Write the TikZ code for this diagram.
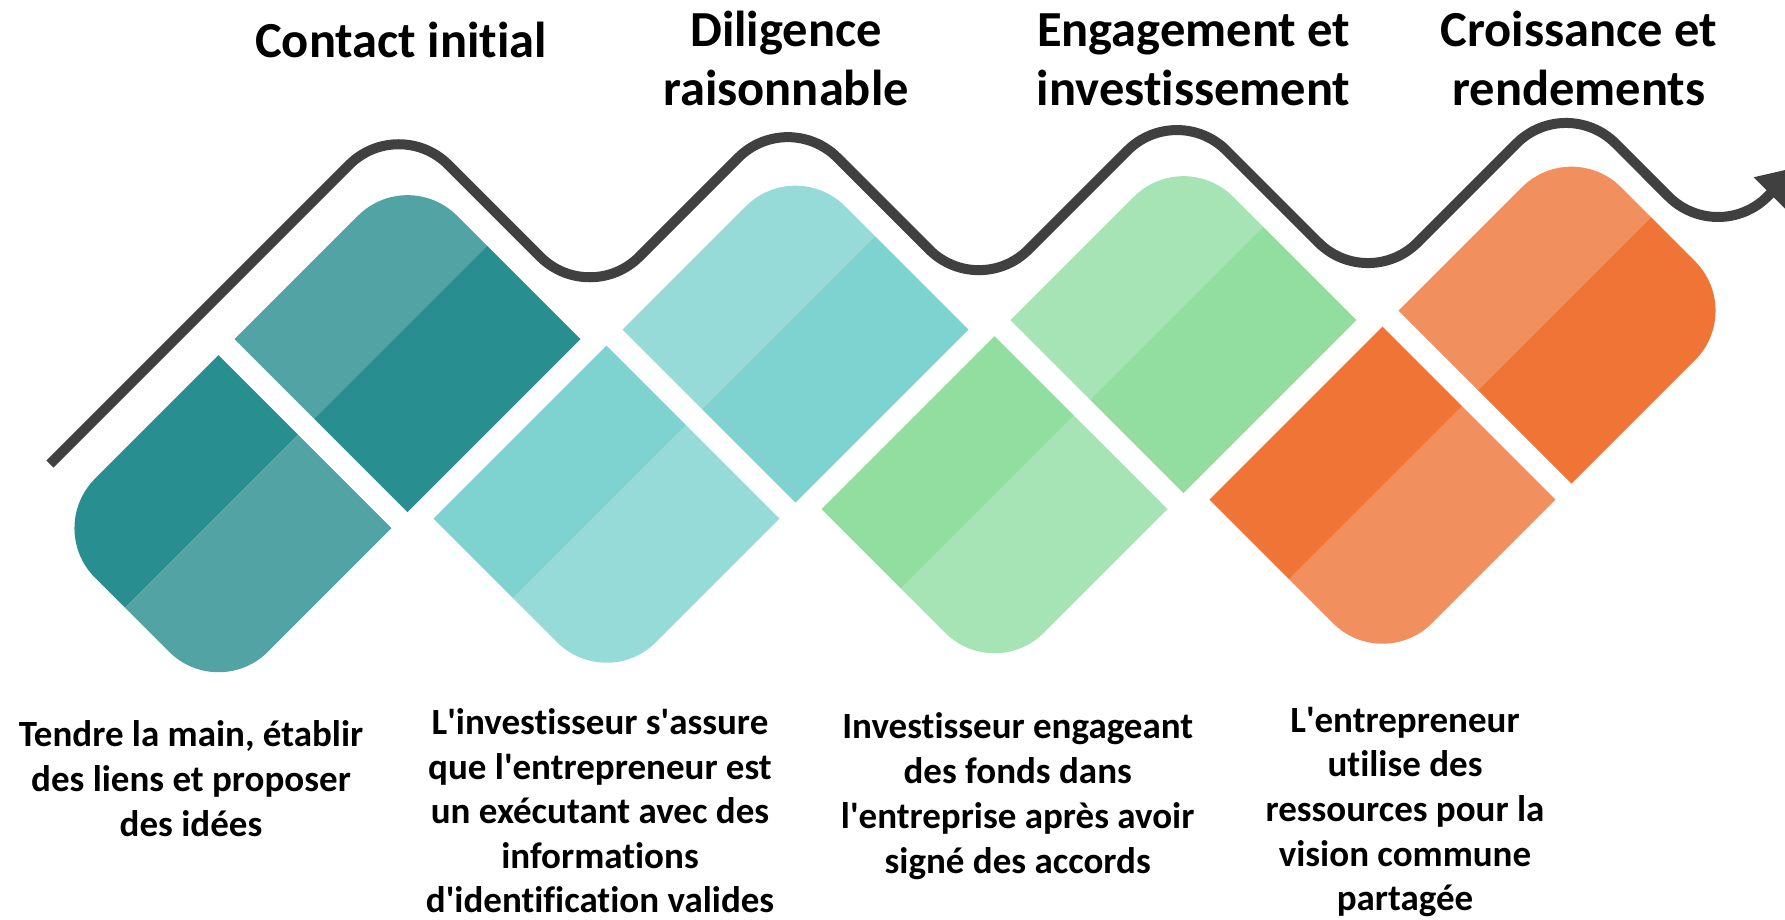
\documentclass[tikz,border=0pt]{standalone}
\usepackage{fontspec}
\setmainfont{Carlito}[Ligatures=CommonOff]
\usetikzlibrary{calc,arrows.meta}
\newcommand{\ap}{\textquotesingle}
\definecolor{lineC}{HTML}{404040}
\definecolor{aD}{HTML}{288E8F}
\definecolor{aL}{HTML}{52A3A4}
\definecolor{bD}{HTML}{7ED3D0}
\definecolor{bL}{HTML}{97DBD8}
\definecolor{cD}{HTML}{92DEA0}
\definecolor{cL}{HTML}{A6E4B5}
\definecolor{dD}{HTML}{F07436}
\definecolor{dL}{HTML}{F18F5E}
% rounded corner helper: #1 name, #2 corner, #3 previous point, #4 next point
\newcommand{\rcdef}[4]{%
  \coordinate (#1a) at ($(#2)!70pt!(#3)$);
  \coordinate (#1c) at ($(#2)!31.3pt!(#3)$);
  \coordinate (#1d) at ($(#2)!31.3pt!(#4)$);
  \coordinate (#1b) at ($(#2)!70pt!(#4)$);}
% stage geometry: #1 name, #2 cx, #3 cy (centre of the upper piece)
\newcommand{\defstage}[3]{%
  \coordinate (#1-UL) at (#2-173,#3);
  \coordinate (#1-UT) at (#2,#3-173);
  \coordinate (#1-UR) at (#2+173,#3);
  \coordinate (#1-UB) at (#2,#3+173);
  \coordinate (#1-US1) at ($(#1-UT)!0.46!(#1-UR)$);
  \coordinate (#1-US2) at ($(#1-UL)!0.46!(#1-UB)$);
  \coordinate (#1-DL) at (#2-362,#3+189);
  \coordinate (#1-DT) at (#2-189,#3+16);
  \coordinate (#1-DR) at (#2-16,#3+189);
  \coordinate (#1-DB) at (#2-189,#3+362);
  \coordinate (#1-DS1) at ($(#1-DT)!0.46!(#1-DR)$);
  \coordinate (#1-DS2) at ($(#1-DL)!0.46!(#1-DB)$);
  \rcdef{#1-rT}{#1-UT}{#1-UL}{#1-UR}
  \rcdef{#1-rB}{#1-DB}{#1-DR}{#1-DL}}
\begin{document}
\begin{tikzpicture}[x=1pt,y=-1pt,
  wave/.style={draw=lineC,line width=10pt,rounded corners=70pt,
    -{Triangle[length=38pt,width=44pt]}},
  ttl/.style={font=\bfseries\fontsize{50.5}{59.5}\selectfont,align=center,
    inner sep=0pt,anchor=north},
  txt/.style={font=\bfseries\fontsize{37}{45}\selectfont,align=center,
    inner sep=0pt,anchor=north}]
\useasboundingbox (0,0) rectangle (1785,920);
\clip (0,0) rectangle (1785,920);
\defstage{a}{407.5}{339.2}
\defstage{b}{795.5}{329.7}
\defstage{c}{1183.5}{320.2}
\defstage{d}{1571.5}{310.7}
\rcdef{a-rL}{a-DL}{a-DB}{a-DT}
\rcdef{d-rR}{d-UR}{d-UT}{d-UB}
% upper pieces, upper-left halves (light)
\foreach \s/\c in {a/aL,b/bL,c/cL,d/dL}{
  \fill[\c] (\s-UL) -- (\s-rTa) .. controls (\s-rTc) and (\s-rTd) .. (\s-rTb)
    -- (\s-US1) -- (\s-US2) -- cycle;}
% upper pieces, lower-right halves (dark)
\foreach \s/\c in {a/aD,b/bD,c/cD}{
  \fill[\c] (\s-US1) -- (\s-UR) -- (\s-UB) -- (\s-US2) -- cycle;}
\fill[dD] (d-US1) -- (d-rRa) .. controls (d-rRc) and (d-rRd) .. (d-rRb)
  -- (d-UB) -- (d-US2) -- cycle;
% lower pieces, upper-left halves (dark)
\fill[aD] (a-rLa) .. controls (a-rLc) and (a-rLd) .. (a-rLb)
  -- (a-DT) -- (a-DS1) -- (a-DS2) -- cycle;
\foreach \s/\c in {b/bD,c/cD,d/dD}{
  \fill[\c] (\s-DL) -- (\s-DT) -- (\s-DS1) -- (\s-DS2) -- cycle;}
% lower pieces, lower-right halves (light)
\foreach \s/\c in {a/aL,b/bL,c/cL,d/dL}{
  \fill[\c] (\s-DS1) -- (\s-DR) -- (\s-rBa) .. controls (\s-rBc) and (\s-rBd) .. (\s-rBb)
    -- (\s-DS2) -- cycle;}
% wavy arrow
\coordinate (w0) at (50,464);
\coordinate (p1) at (398.75,115.25);
\coordinate (q1) at (589.75,306.25);
\coordinate (p2) at (787.85,108.15);
\coordinate (q2) at (978.85,299.15);
\coordinate (p3) at (1176.95,101.05);
\coordinate (q3) at (1367.95,292.05);
\coordinate (p4) at (1566.05,93.95);
\coordinate (q4) at (1718,246);
\coordinate (w9) at (1797,167);
\draw[wave] (w0) -- (p1) -- (q1) -- (p2) -- (q2) -- (p3) -- (q3) -- (p4) -- (q4) -- (w9);
% titles
\node[ttl] (t1) at (401,16.6) {\rule{0pt}{0.8em}Contact initial};
\node[ttl] (t2) at (786,5.6) {\rule{0pt}{0.8em}Diligence\\raisonnable};
\node[ttl] (t3) at (1193.6,5.6) {\rule{0pt}{0.8em}Engagement et\\investissement};
\node[ttl] (t4) at (1579,5.6) {\rule{0pt}{0.8em}Croissance et\\rendements};
% descriptions
\node[txt] (d1) at (191,716.4) {\rule{0pt}{0.8em}Tendre la main, établir\\des liens et proposer\\des idées};
\node[txt,font=\bfseries\fontsize{37}{44.4}\selectfont] (d2) at (600,705)
  {\rule{0pt}{0.8em}L\ap investisseur s\ap assure\\que l\ap entrepreneur est\\un exécutant avec des\\informations\\d\ap identification valides};
\node[txt] (d3) at (1017.7,708.6) {\rule{0pt}{0.8em}Investisseur engageant\\des fonds dans\\l\ap entreprise après avoir\\signé des accords};
\node[txt,font=\bfseries\fontsize{37}{44.6}\selectfont] (d4) at (1405,702.4)
  {\rule{0pt}{0.8em}L\ap entrepreneur\\utilise des\\ressources pour la\\vision commune\\partagée};
\end{tikzpicture}
\end{document}
